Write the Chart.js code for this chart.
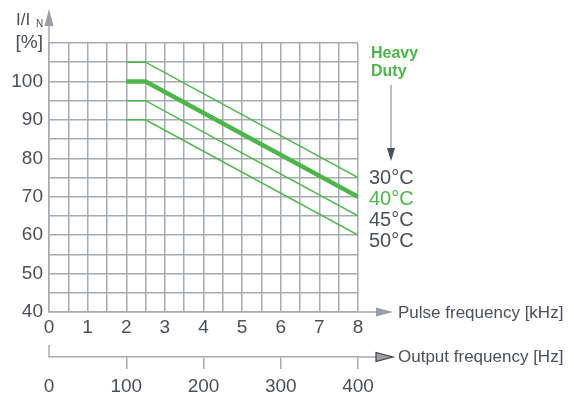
<!DOCTYPE html>
<html>
<head>
<meta charset="utf-8">
<script src="https://cdn.jsdelivr.net/npm/chart.js@4.4.1/dist/chart.umd.min.js"></script>
<style>
  html, body { margin: 0; padding: 0; background: #fff; }
  #wrap { width: 574px; height: 394px; }
</style>
</head>
<body>
<div id="wrap"><canvas id="derating"></canvas></div>
<script>
// pulse frequency points (kHz) shared by every curve
const pulseKHz = [2, 2.5, 8];
// rated current I/IN [%] per ambient temperature
const curve30 = [105, 105, 75];
const curve40 = [100, 100, 70];
const curve45 = [95, 95, 65];
const curve50 = [90, 90, 60];
const tempLabels = ['30°C', '40°C', '45°C', '50°C'];
const yTickLabels = { 40: '40', 50: '50', 60: '60', 70: '70', 80: '80', 90: '90', 100: '100', 110: '[%]' };
const outputHzMax = 400;

const GREEN = '#4cb648';
const GRID = '#a6abb0';
const TEXT = '#4b5057';
const FONT = "'Liberation Sans', Arial, sans-serif";

function pts(values) {
    return pulseKHz.map((x, i) => ({ x: x, y: values[i] }));
}

// extra drawing: axis arrows, axis titles, temperature labels
const decorations = {
    id: 'decorations',
    afterDraw(chart) {
        const c = chart.ctx;
        const x = chart.scales.x, y = chart.scales.y, x2 = chart.scales.x2;
        const left = x.getPixelForValue(0);
        const right = x.getPixelForValue(8);
        const base = y.getPixelForValue(40);
        const top = y.getPixelForValue(110);
        c.save();
        c.strokeStyle = GRID;
        c.lineWidth = 1.5;

        // y axis going up with arrow
        c.beginPath(); c.moveTo(left, top); c.lineTo(left, 24); c.stroke();
        c.fillStyle = '#9a9ea3';
        c.beginPath(); c.moveTo(left, 9); c.lineTo(left - 4.5, 26); c.lineTo(left + 4.5, 26); c.closePath(); c.fill();

        // pulse axis extension with arrow
        c.beginPath(); c.moveTo(right, base); c.lineTo(377, base); c.stroke();
        c.beginPath(); c.moveTo(376, base - 4.5); c.lineTo(393, base); c.lineTo(376, base + 4.5); c.closePath(); c.fill();

        // output frequency axis
        const oy = x2.top;
        const oRight = x2.getPixelForValue(outputHzMax);
        c.beginPath(); c.moveTo(oRight, oy); c.lineTo(377, oy); c.stroke();
        c.beginPath(); c.moveTo(left, oy); c.lineTo(left, oy - 12); c.stroke();
        c.fillStyle = '#9a9ea3';
        c.strokeStyle = '#3d4148';
        c.lineWidth = 1.2;
        c.beginPath(); c.moveTo(376, oy - 4.5); c.lineTo(393, oy); c.lineTo(376, oy + 4.5); c.closePath(); c.fill(); c.stroke();

        // axis titles
        c.fillStyle = TEXT;
        c.textBaseline = 'middle';
        c.textAlign = 'left';
        c.font = '17px ' + FONT;
        c.fillText('Pulse frequency [kHz]', 398, base + 1);
        c.fillText('Output frequency [Hz]', 398, oy);
        c.font = '17px ' + FONT;
        c.fillText('I/I', 16, 20);
        c.font = '10px ' + FONT;
        c.fillText('N', 36, 24);

        // heavy duty legend
        c.fillStyle = GREEN;
        c.font = 'bold 16px ' + FONT;
        c.fillText('Heavy', 371, 54);
        c.fillText('Duty', 371, 72);
        c.strokeStyle = '#a6abb0';
        c.lineWidth = 1.5;
        c.beginPath(); c.moveTo(391, 85); c.lineTo(391, 150); c.stroke();
        c.fillStyle = '#4b5057';
        c.beginPath(); c.moveTo(387, 148); c.lineTo(395, 148); c.lineTo(391, 161); c.closePath(); c.fill();

        c.font = '20px ' + FONT;
        const labelY = [178, 199, 220, 241];
        tempLabels.forEach((t, i) => {
            c.fillStyle = i === 1 ? GREEN : TEXT;
            c.fillText(t, 369, labelY[i]);
        });
        c.restore();
    }
};

new Chart(document.getElementById('derating'), {
    type: 'line',
    data: {
        datasets: [
            { data: pts(curve30), borderColor: GREEN, borderWidth: 1.5 },
            { data: pts(curve45), borderColor: GREEN, borderWidth: 1.5 },
            { data: pts(curve50), borderColor: GREEN, borderWidth: 1.5 },
            { data: pts(curve40), borderColor: GREEN, borderWidth: 4.5 }
        ]
    },
    options: {
        responsive: true,
        maintainAspectRatio: false,
        animation: false,
        events: [],
        layout: { padding: { left: 0, top: 43, right: 216, bottom: 0 } },
        elements: { point: { radius: 0 }, line: { tension: 0, borderCapStyle: 'butt' } },
        plugins: { legend: { display: false }, tooltip: { enabled: false } },
        scales: {
            x: {
                type: 'linear',
                position: 'bottom',
                weight: 0,
                min: 0,
                max: 8,
                afterFit(s) { s.height = 45; },
                ticks: {
                    stepSize: 0.5,
                    autoSkip: false,
                    maxRotation: 0,
                    padding: 4,
                    color: TEXT,
                    font: { family: FONT, size: 19 },
                    callback: v => Number.isInteger(v) ? String(v) : ''
                },
                grid: { color: GRID, lineWidth: 1.5, drawTicks: false },
                border: { color: GRID, width: 1.5 }
            },
            x2: {
                type: 'linear',
                position: 'bottom',
                weight: 1,
                min: 0,
                max: outputHzMax,
                afterFit(s) { s.height = 37; },
                ticks: {
                    stepSize: 100,
                    maxRotation: 0,
                    padding: 6,
                    color: TEXT,
                    font: { family: FONT, size: 19 }
                },
                grid: {
                    drawOnChartArea: false,
                    tickLength: 12,
                    lineWidth: 1.5,
                    color: ctx => (ctx.tick && ctx.tick.value === 0) ? 'rgba(0,0,0,0)' : GRID
                },
                border: { color: GRID, width: 1.5 }
            },
            y: {
                min: 40,
                max: 110,
                afterFit(s) { s.width = 49; },
                ticks: {
                    stepSize: 5,
                    autoSkip: false,
                    padding: 6,
                    color: TEXT,
                    font: { family: FONT, size: 19 },
                    callback: v => yTickLabels[v] || ''
                },
                grid: { color: GRID, lineWidth: 1.5, drawTicks: false },
                border: { color: GRID, width: 1.5 }
            }
        }
    },
    plugins: [decorations]
});
</script>
</body>
</html>
